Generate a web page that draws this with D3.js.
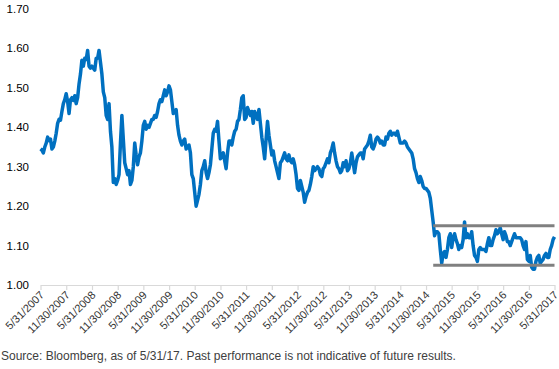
<!DOCTYPE html>
<html><head><meta charset="utf-8">
<script src="https://cdn.jsdelivr.net/npm/d3@7"></script>
<style>body{margin:0;background:#fff}svg{display:block;font-family:"Liberation Sans",Arial,sans-serif}</style>
</head><body><svg id="c" width="559" height="369"></svg>
<script>
// EUR/USD, 5/31/2007 - 5/31/2017, ~3 readings per month
const startValue = [1.345];
const y2007 = [1.342,1.335,1.35, 1.36,1.375,1.366, 1.37,1.345,1.35, 1.365,1.385,1.41, 1.42,1.418,1.44, 1.46,1.47,1.485, 1.465,1.435,1.47, 1.475,1.468,1.48, 1.46,1.475,1.51, 1.535,1.57,1.555, 1.575,1.572,1.595, 1.555,1.55,1.555];
const y2008 = [1.55,1.545,1.575, 1.575,1.595,1.565, 1.535,1.49,1.475, 1.43,1.42,1.46, 1.39,1.35,1.26, 1.27,1.255,1.265, 1.28,1.36,1.43, 1.37,1.31,1.295, 1.28,1.29,1.255, 1.265,1.30,1.36, 1.33,1.305,1.325, 1.335,1.365,1.405];
const y2009 = [1.415,1.395,1.405, 1.40,1.41,1.42, 1.42,1.43,1.425, 1.44,1.46,1.47, 1.465,1.48,1.495, 1.48,1.49,1.505, 1.495,1.465,1.435, 1.44,1.445,1.405, 1.38,1.365,1.355, 1.365,1.37,1.345, 1.35,1.355,1.335, 1.28,1.27,1.235];
const y2010 = [1.20,1.215,1.23, 1.255,1.29,1.30, 1.315,1.285,1.27, 1.285,1.305,1.345, 1.385,1.395,1.39, 1.415,1.365,1.32, 1.325,1.335,1.315, 1.295,1.335,1.365, 1.365,1.355,1.375, 1.39,1.395,1.415, 1.42,1.445,1.475, 1.48,1.42,1.425];
const y2011 = [1.45,1.44,1.43, 1.44,1.41,1.44, 1.43,1.42,1.445, 1.41,1.375,1.35, 1.32,1.37,1.415, 1.38,1.355,1.33, 1.34,1.315,1.30, 1.285,1.27,1.31, 1.315,1.325,1.335, 1.32,1.315,1.33, 1.315,1.31,1.32, 1.305,1.28,1.245];
const y2012 = [1.24,1.265,1.25, 1.235,1.21,1.225, 1.235,1.24,1.255, 1.275,1.30,1.29, 1.295,1.30,1.295, 1.28,1.275,1.295, 1.30,1.31,1.32, 1.31,1.335,1.345, 1.36,1.335,1.315, 1.30,1.295,1.285, 1.29,1.31,1.30, 1.315,1.29,1.295];
const y2013 = [1.31,1.335,1.31, 1.285,1.31,1.325, 1.33,1.335,1.335, 1.32,1.345,1.35, 1.355,1.365,1.38, 1.35,1.345,1.355, 1.37,1.375,1.37, 1.36,1.365,1.355, 1.355,1.375,1.37, 1.385,1.39,1.38, 1.385,1.385,1.38, 1.39,1.375,1.36];
const y2014 = [1.36,1.36,1.365, 1.36,1.35,1.345, 1.34,1.335,1.32, 1.295,1.285,1.27, 1.26,1.275,1.265, 1.25,1.245,1.245, 1.24,1.235,1.22, 1.19,1.16,1.125, 1.135,1.135,1.13, 1.09,1.055,1.08, 1.085,1.07,1.09, 1.12,1.13,1.095];
const y2015 = [1.12,1.13,1.115, 1.105,1.09,1.10, 1.095,1.115,1.16, 1.12,1.13,1.12, 1.12,1.135,1.10, 1.075,1.07,1.06, 1.09,1.095,1.09, 1.09,1.09,1.085, 1.105,1.12,1.10, 1.10,1.115,1.125, 1.14,1.13,1.135, 1.145,1.13,1.115];
const y2016 = [1.135,1.125,1.11, 1.11,1.10,1.11, 1.12,1.13,1.12, 1.12,1.12,1.12, 1.115,1.10,1.09, 1.11,1.065,1.06, 1.075,1.045,1.04, 1.04,1.06,1.07, 1.075,1.055,1.06, 1.065,1.075,1.08, 1.07,1.07,1.09, 1.10,1.115,1.122];

const yTicks = [1.00,1.10,1.20,1.30,1.40,1.50,1.60,1.70];
const xTickLabels = ["5/31/2007","11/30/2007","5/31/2008","11/30/2008","5/31/2009","11/30/2009","5/31/2010","11/30/2010","5/31/2011","11/30/2011","5/31/2012","11/30/2012","5/31/2013","11/30/2013","5/31/2014","11/30/2014","5/31/2015","11/30/2015","5/31/2016","11/30/2016","5/31/2017"];
const bandLevels = [1.05, 1.15];
const bandStart = "1/20/2015";
const sourceText = "Source: Bloomberg, as of 5/31/17. Past performance is not indicative of future results.";

const parse = d3.timeParse("%m/%d/%Y");
const t0 = parse(xTickLabels[0]), t1 = parse(xTickLabels[xTickLabels.length-1]);
const values = [].concat(startValue,y2007,y2008,y2009,y2010,y2011,y2012,y2013,y2014,y2015,y2016);
const n = values.length;
const data = values.map((v,i)=>({d:new Date(+t0 + i*(t1-t0)/(n-1)), v}));

const svg = d3.select("#c");
const x = d3.scaleTime().domain([t0,t1]).range([40.5,554.5]);
const y = d3.scaleLinear().domain([1,1.7]).range([285,9]);

// y labels
svg.append("g").selectAll("text").data(yTicks).join("text")
  .attr("x",29).attr("y",d=>y(d)).attr("dy","0.35em").attr("text-anchor","end")
  .attr("font-size",11.5).attr("fill","#000").text(d=>d3.format(".2f")(d));

// x axis
const xa = svg.append("g").attr("transform","translate(0,285)")
  .call(d3.axisBottom(x).tickValues(xTickLabels.map(parse)).tickSize(5).tickSizeOuter(0).tickFormat((d,i)=>xTickLabels[i]));
xa.select(".domain").attr("stroke","#d9d9d9").attr("stroke-width",1.2);
xa.selectAll(".tick line").attr("stroke","#d9d9d9").attr("stroke-width",1.2);
xa.selectAll(".tick text").attr("font-size",11).attr("font-family","Liberation Sans, Arial, sans-serif").attr("fill","#333")
  .attr("text-anchor","end").attr("dy","0.35em").attr("y",0)
  .attr("transform","translate(1,8) rotate(-45)");

// line
svg.append("path").datum(data).attr("fill","none").attr("stroke","#0070c0").attr("stroke-width",3.5)
  .attr("stroke-linejoin","round")
  .attr("d",d3.line().x(d=>x(d.d)).y(d=>y(d.v)));

// bands
svg.append("g").selectAll("line").data(bandLevels).join("line")
  .attr("x1",x(parse(bandStart))).attr("x2",x(t1)).attr("y1",d=>y(d)).attr("y2",d=>y(d))
  .attr("stroke","#808080").attr("stroke-width",3);

svg.append("text").attr("x",1).attr("y",360).attr("font-size",12).attr("fill","#404040").text(sourceText);
</script></body></html>
